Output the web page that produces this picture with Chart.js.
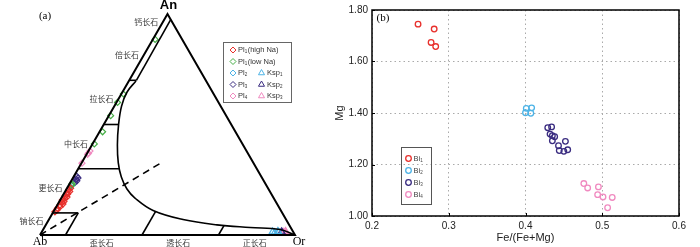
<!DOCTYPE html>
<html>
<head>
<meta charset="utf-8">
<script src="https://cdn.jsdelivr.net/npm/chart.js@4.4.0/dist/chart.umd.min.js"></script>
<style>
  html, body { margin: 0; padding: 0; background: #fff; }
  #wrap { position: relative; width: 700px; height: 247px; overflow: hidden; }
  #boxA { position: absolute; left: 0; top: 0; width: 320px; height: 247px; }
  #boxB { position: absolute; left: 325px; top: 0; width: 375px; height: 247px; }
</style>
</head>
<body>
<div id="wrap">
  <div id="boxA"><canvas id="ternary"></canvas></div>
  <div id="boxB"><canvas id="biotite"></canvas></div>
</div>
<script>
// ---------- (a) feldspar Ab-An-Or, fractions of Or and An ----------
const pl1HighNaOr = [0.006, 0.010, 0.008, 0.015, 0.010, 0.020, 0.012, 0.018, 0.008, 0.014, 0.020, 0.010, 0.016, 0.012, 0.018, 0.010, 0.014];
const pl1HighNaAn = [0.105, 0.112, 0.120, 0.128, 0.135, 0.140, 0.148, 0.152, 0.158, 0.165, 0.172, 0.178, 0.185, 0.190, 0.197, 0.205, 0.212];
const pl1LowNaOr = [0.009, 0.008, 0.004, 0.007, 0.012, 0.007, 0.012, 0.010];
const pl1LowNaAn = [0.885, 0.638, 0.600, 0.540, 0.467, 0.412, 0.225, 0.232];
const pl2Or = [0.010, 0.012];
const pl2An = [0.218, 0.226];
const pl3Or = [0.018, 0.022, 0.016, 0.020, 0.012];
const pl3An = [0.237, 0.245, 0.252, 0.258, 0.265];
const pl4Or = [0.002, 0.004, 0.005, 0.006];
const pl4An = [0.325, 0.365, 0.370, 0.380];
const ksp1Or = [0.905, 0.915, 0.925, 0.930];
const ksp1An = [0.014, 0.010, 0.016, 0.012];
const ksp2Or = [0.940, 0.945];
const ksp2An = [0.014, 0.010];
const ksp3Or = [0.950, 0.955, 0.960];
const ksp3An = [0.012, 0.016, 0.010];

// field boundaries
const plagBounds = [0, 0.1, 0.3, 0.5, 0.7, 0.9, 1];
const plagNames = ['钠长石', '更长石', '中长石', '拉长石', '倍长石', '钙长石'];
const plagBreakAn = [0.1, 0.3, 0.5, 0.7];
const plagBreakEndOr = [0.1, 0.162, 0.058, 0.028];
const alkBounds = [0.1, 0.4, 0.7, 1.0];
const alkNames = ['歪长石', '透长石', '正长石'];
const alkBreakOr = [0.1, 0.4, 0.7];
const alkBreakEndAn = [0.1, 0.107, 0.044];
const solvusOr = [0.028, 0.018, 0.028, 0.059, 0.100, 0.144, 0.188, 0.237, 0.289, 0.388, 0.526, 0.671, 0.807, 0.929, 1.0];
const solvusAn = [0.697, 0.647, 0.584, 0.498, 0.407, 0.326, 0.262, 0.208, 0.167, 0.111, 0.070, 0.046, 0.034, 0.025, 0.0];
const innerOr = [0.025, 0.028];
const innerAn = [0.975, 0.700];
const dashOr = [0, 0.315];
const dashAn = [0, 0.330];

// ---------- (b) biotite ----------
const bi1Fe = [0.260, 0.281, 0.277, 0.283];
const bi1Mg = [1.745, 1.726, 1.674, 1.658];
const bi2Fe = [0.401, 0.408, 0.400, 0.407];
const bi2Mg = [1.418, 1.420, 1.401, 1.399];
const bi3Fe = [0.429, 0.434, 0.432, 0.435, 0.438, 0.435, 0.452, 0.443, 0.444, 0.450, 0.455];
const bi3Mg = [1.343, 1.346, 1.318, 1.312, 1.308, 1.292, 1.290, 1.273, 1.254, 1.251, 1.257];
const bi4Fe = [0.476, 0.481, 0.495, 0.494, 0.501, 0.513, 0.507];
const bi4Mg = [1.126, 1.109, 1.113, 1.083, 1.074, 1.072, 1.032];

const H = Math.sqrt(3) / 2;
const tern = (or, an) => ({ x: or + an / 2, y: an * H });
const toPts = (ors, ans) => ors.map((o, i) => tern(o, ans[i]));

function lineSet(ors, ans, extra) {
  return Object.assign({
    type: 'line', data: toPts(ors, ans), showLine: true, fill: false,
    borderColor: '#000', borderWidth: 1.6, pointRadius: 0, tension: 0, clip: false
  }, extra || {});
}
function markSet(ors, ans, color, style) {
  return {
    data: toPts(ors, ans), borderColor: color, backgroundColor: 'rgba(255,255,255,0)',
    pointStyle: style, pointRadius: style === 'triangle' ? 4 : 3, borderWidth: 1.2, clip: false
  };
}

const red = '#e8302c', green = '#45ad45', cyan = '#4db3e6', navy = '#3a2c80', pink = '#f08ac0';

const lineSets = [lineSet([0, 1, 0, 0], [0, 0, 1, 0], { borderWidth: 2 })];
plagBreakAn.forEach((an, i) => lineSets.push(lineSet([0, plagBreakEndOr[i]], [an, an])));
alkBreakOr.forEach((or, i) => lineSets.push(lineSet([or, or], [0, alkBreakEndAn[i]])));
lineSets.push(lineSet(innerOr, innerAn));
lineSets.push(lineSet(solvusOr, solvusAn, { tension: 0.4 }));
lineSets.push(lineSet(dashOr, dashAn, { borderDash: [7, 5] }));

const markSets = [
  markSet(pl1HighNaOr, pl1HighNaAn, red, 'rectRot'),
  markSet(pl1LowNaOr, pl1LowNaAn, green, 'rectRot'),
  markSet(pl2Or, pl2An, cyan, 'rectRot'),
  markSet(pl3Or, pl3An, navy, 'rectRot'),
  markSet(pl4Or, pl4An, pink, 'rectRot'),
  markSet(ksp1Or, ksp1An, cyan, 'triangle'),
  markSet(ksp2Or, ksp2An, navy, 'triangle'),
  markSet(ksp3Or, ksp3An, pink, 'triangle')
];

function subText(ctx, base, sub, rest, x, y, size) {
  ctx.font = size + 'px "Liberation Sans", Arial, sans-serif';
  ctx.fillText(base, x, y);
  let w = ctx.measureText(base).width;
  ctx.font = (size * 0.6) + 'px "Liberation Sans", Arial, sans-serif';
  ctx.fillText(sub, x + w, y + size * 0.3);
  w += ctx.measureText(sub).width + 0.5;
  if (rest) {
    ctx.font = size + 'px "Liberation Sans", Arial, sans-serif';
    ctx.fillText(rest, x + w, y);
  }
}
function marker(ctx, style, color, x, y, r) {
  ctx.strokeStyle = color;
  ctx.fillStyle = 'rgba(255,255,255,0)';
  Chart.helpers.drawPoint(ctx, { pointStyle: style, radius: r, borderWidth: 1, rotation: 0 }, x, y);
}

const ternaryText = {
  id: 'ternaryText',
  afterDatasetsDraw(chart) {
    const { ctx, scales: { x, y } } = chart;
    const px = (or, an) => { const p = tern(or, an); return [x.getPixelForValue(p.x), y.getPixelForValue(p.y)]; };
    ctx.save();
    ctx.fillStyle = '#3a3a3a';
    ctx.font = '8px "Noto Sans CJK SC", sans-serif';
    ctx.textAlign = 'right';
    ctx.textBaseline = 'middle';
    plagNames.forEach((name, i) => {
      const [xx, yy] = px(0, (plagBounds[i] + plagBounds[i + 1]) / 2);
      ctx.fillText(name, xx - 3, yy - 3);
    });
    ctx.textAlign = 'center';
    alkNames.forEach((name, i) => {
      const [xx, yy] = px((alkBounds[i] + alkBounds[i + 1]) / 2, 0);
      ctx.fillText(name, xx - 2, yy + 8);
    });
    // apices
    ctx.fillStyle = '#000';
    ctx.font = '12px "Liberation Serif", serif';
    let [ax, ay] = px(0, 0);
    ctx.fillText('Ab', ax, ay + 7);
    [ax, ay] = px(1, 0);
    ctx.fillText('Or', ax + 4, ay + 7);
    [ax, ay] = px(0, 1);
    ctx.font = 'bold 13px "Liberation Sans", Arial, sans-serif';
    ctx.fillText('An', ax + 1, ay - 9);
    ctx.font = '11px "Liberation Serif", serif';
    ctx.fillText('(a)', 45, 16);

    // legend
    ctx.strokeStyle = '#666';
    ctx.lineWidth = 1;
    ctx.strokeRect(223.5, 42.5, 68, 60);
    ctx.textAlign = 'left';
    const rows = [50, 61.5, 73, 84.5, 96];
    const leftCol = [['1', '(high Na)', red], ['1', '(low Na)', green], ['2', '', cyan], ['3', '', navy], ['4', '', pink]];
    leftCol.forEach((e, i) => {
      marker(ctx, 'rectRot', e[2], 233, rows[i], 3);
      ctx.fillStyle = '#333';
      subText(ctx, 'Pl', e[0], e[1], 238, rows[i], 7.5);
    });
    const rightCol = [['1', cyan], ['2', navy], ['3', pink]];
    rightCol.forEach((e, i) => {
      marker(ctx, 'triangle', e[1], 261.5, rows[i + 2], 3.5);
      ctx.fillStyle = '#333';
      subText(ctx, 'Ksp', e[0], '', 267, rows[i + 2], 7.5);
    });
    ctx.restore();
  }
};

new Chart(document.getElementById('ternary'), {
  type: 'scatter',
  data: { datasets: lineSets.concat(markSets) },
  options: {
    responsive: true, maintainAspectRatio: false, animation: false,
    layout: { padding: { left: 40, right: 25, top: 14, bottom: 12 } },
    plugins: { legend: { display: false }, tooltip: { enabled: false } },
    scales: {
      x: { type: 'linear', display: false, min: 0, max: 1 },
      y: { type: 'linear', display: false, min: 0, max: H }
    }
  },
  plugins: [ternaryText]
});

// ---------- (b) ----------
const biSets = [[bi1Fe, bi1Mg, red], [bi2Fe, bi2Mg, cyan], [bi3Fe, bi3Mg, navy], [bi4Fe, bi4Mg, pink]];

const frameAndLegend = {
  id: 'frameAndLegend',
  afterDatasetsDraw(chart) {
    const { ctx, chartArea: a, scales: { x, y } } = chart;
    ctx.save();
    ctx.strokeStyle = '#000';
    ctx.lineWidth = 1.5;
    ctx.strokeRect(a.left, a.top, a.right - a.left, a.bottom - a.top);
    ctx.lineWidth = 1;
    x.ticks.forEach(t => {
      const p = Math.round(x.getPixelForValue(t.value)) + 0.5;
      ctx.beginPath(); ctx.moveTo(p, a.bottom); ctx.lineTo(p, a.bottom - 3); ctx.stroke();
    });
    y.ticks.forEach(t => {
      const p = Math.round(y.getPixelForValue(t.value)) + 0.5;
      ctx.beginPath(); ctx.moveTo(a.left, p); ctx.lineTo(a.left + 3, p); ctx.stroke();
    });
    ctx.fillStyle = '#000';
    ctx.font = '11px "Liberation Serif", serif';
    ctx.textAlign = 'center';
    ctx.textBaseline = 'middle';
    ctx.fillText('(b)', a.left + 11, a.top + 8);
    // legend
    ctx.strokeStyle = '#555';
    ctx.lineWidth = 1;
    ctx.strokeRect(a.left + 29.5, 147.5, 30, 57);
    ctx.textAlign = 'left';
    const rows = [158.5, 170.5, 182.5, 194.5];
    biSets.forEach((s, i) => {
      ctx.lineWidth = 1.3;
      ctx.strokeStyle = s[2];
      ctx.beginPath(); ctx.arc(a.left + 36.5, rows[i], 2.8, 0, Math.PI * 2); ctx.stroke();
      ctx.fillStyle = '#444';
      subText(ctx, 'Bi', String(i + 1), '', a.left + 41.5, rows[i], 7.5);
    });
    ctx.restore();
  }
};

new Chart(document.getElementById('biotite'), {
  type: 'scatter',
  data: {
    datasets: biSets.map(s => ({
      data: s[0].map((v, i) => ({ x: v, y: s[1][i] })),
      borderColor: s[2], backgroundColor: 'rgba(255,255,255,0)',
      pointRadius: 2.8, borderWidth: 1.3, clip: false
    }))
  },
  options: {
    responsive: true, maintainAspectRatio: false, animation: false,
    layout: { padding: { left: 0, right: 21, top: 8, bottom: 0 } },
    plugins: { legend: { display: false }, tooltip: { enabled: false } },
    scales: {
      x: {
        type: 'linear', min: 0.2, max: 0.6,
        afterFit: s => { s.height = 31; },
        ticks: { stepSize: 0.1, callback: v => v.toFixed(1), color: '#222', padding: 4,
                 font: { family: '"Liberation Sans", Arial, sans-serif', size: 10 } },
        grid: { color: '#aaa', lineWidth: 1, drawTicks: false },
        border: { display: false, dash: [1.5, 3] },
        title: { display: true, text: 'Fe/(Fe+Mg)', color: '#222', padding: { top: 0, bottom: 2 },
                 font: { family: '"Liberation Sans", Arial, sans-serif', size: 11 } }
      },
      y: {
        type: 'linear', min: 1.0, max: 1.8,
        afterFit: s => { s.width = 47; },
        ticks: { stepSize: 0.2, callback: v => v.toFixed(2), color: '#222', padding: 4,
                 font: { family: '"Liberation Sans", Arial, sans-serif', size: 10 } },
        grid: { color: '#aaa', lineWidth: 1, drawTicks: false },
        border: { display: false, dash: [1.5, 3] },
        title: { display: true, text: 'Mg', color: '#222', padding: { top: 8, bottom: 0 },
                 font: { family: '"Liberation Sans", Arial, sans-serif', size: 11 } }
      }
    }
  },
  plugins: [frameAndLegend]
});
</script>
</body>
</html>
